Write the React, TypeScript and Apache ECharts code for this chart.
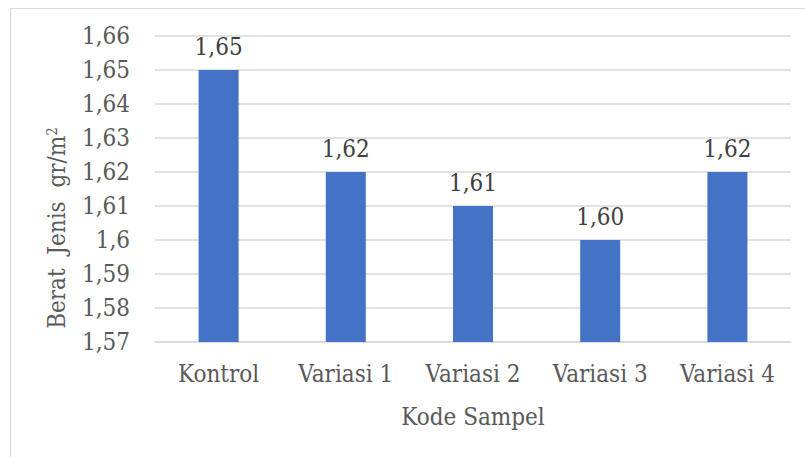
import React, { useEffect, useRef } from "react";
import * as echarts from "echarts";

const categories = ["Kontrol", "Variasi 1", "Variasi 2", "Variasi 3", "Variasi 4"];
const values = [1.65, 1.62, 1.61, 1.6, 1.62];
const yMin = 1.57;
const yMax = 1.66;
const yInterval = 0.01;
const xTitle = "Kode Sampel";

const FONT = "DejaVu Serif Condensed";
const FS = 24;

export default function App() {
  const ref = useRef<HTMLDivElement>(null);
  useEffect(() => {
    if (!ref.current) return;
    const chart = echarts.init(ref.current, null, { renderer: "svg" });
    chart.setOption({
      animation: false,
      backgroundColor: "#ffffff",
      grid: { left: 155, right: 14, top: 36, bottom: 115, containLabel: false },
      xAxis: {
        type: "category",
        data: categories,
        name: xTitle,
        nameLocation: "middle",
        nameGap: 63,
        nameTextStyle: { fontFamily: FONT, fontSize: FS, color: "#595959" },
        axisLine: { show: true, lineStyle: { color: "#d9d9d9", width: 1.5 } },
        axisTick: { show: false },
        axisLabel: { fontFamily: FONT, fontSize: FS, color: "#595959", margin: 20, interval: 0 },
      },
      yAxis: {
        type: "value",
        min: yMin,
        max: yMax,
        interval: yInterval,
        axisLine: { show: false },
        axisTick: { show: false },
        splitLine: { lineStyle: { color: "#d9d9d9", width: 1.5 } },
        axisLabel: {
          fontFamily: FONT,
          fontSize: FS,
          color: "#595959",
          margin: 25,
          formatter: (v: number) => String(Number(v.toFixed(2))).replace(".", ","),
        },
      },
      series: [
        {
          type: "bar",
          data: values,
          barWidth: 40,
          itemStyle: { color: "#4472c4" },
          label: {
            show: true,
            position: "top",
            distance: 11,
            fontFamily: FONT,
            fontSize: FS,
            color: "#404040",
            formatter: (p: any) => Number(p.value).toFixed(2).replace(".", ","),
          },
        },
      ],
      graphic: [
        {
          type: "rect",
          shape: { x: 10.5, y: 8.5, width: 820, height: 470 },
          style: { fill: "none", stroke: "#d9d9d9", lineWidth: 1 },
          silent: true,
        },
        {
          type: "text",
          x: 57,
          y: 228,
          rotation: Math.PI / 2,
          style: {
            text: "{a|Berat  Jenis  gr/m}{s|2}",
            align: "center",
            verticalAlign: "middle",
            fill: "#595959",
            rich: {
              a: { fontFamily: FONT, fontSize: FS, fill: "#595959" },
              s: { fontFamily: FONT, fontSize: 15, fill: "#595959", verticalAlign: "top", padding: [0, 0, 10, 0] },
            },
          },
        },
      ],
    });
    return () => chart.dispose();
  }, []);
  return (
    <div
      ref={ref}
      style={{ position: "fixed", left: 0, top: 0, width: 805, height: 457 }}
    />
  );
}
